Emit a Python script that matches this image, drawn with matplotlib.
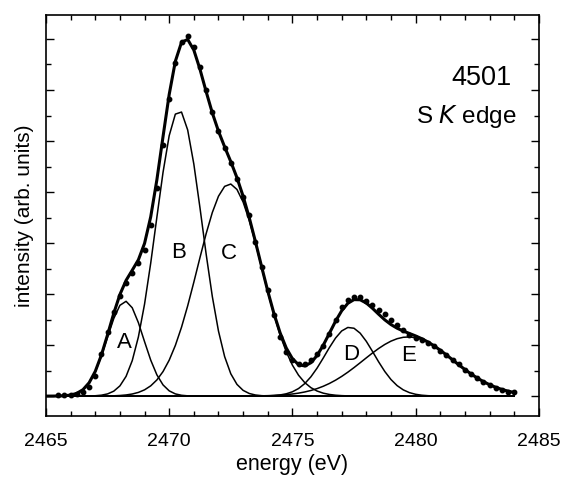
import numpy as np
import matplotlib
matplotlib.use("Agg")
import matplotlib.pyplot as plt
from matplotlib.ticker import MultipleLocator, NullFormatter

plt.rcParams['font.family'] = ['Liberation Sans', 'DejaVu Sans']

# measured spectrum (dots), energy in eV, intensity in arb. units
energy = np.arange(2465.5, 2484.01, 0.25)
intensity = [
    0.02, 0.02, 0.03, 0.04, 0.08, 0.18, 0.40, 0.82, 1.25, 1.65,
    1.97, 2.22, 2.42, 2.61, 2.86, 3.35, 4.07, 4.92, 5.82, 6.52,
    6.95, 7.05, 6.85, 6.46, 6.00, 5.57, 5.20, 4.87, 4.57, 4.25,
    3.91, 3.55, 3.03, 2.54, 2.08, 1.58, 1.16, 0.87, 0.70, 0.63,
    0.63, 0.70, 0.82, 0.99, 1.22, 1.50, 1.74, 1.88, 1.95, 1.95,
    1.87, 1.78, 1.69, 1.60, 1.50, 1.40, 1.30, 1.19, 1.14, 1.09,
    1.04, 0.98, 0.89, 0.80, 0.71, 0.62, 0.52, 0.43, 0.35, 0.28,
    0.21, 0.16, 0.12, 0.09, 0.08,
]

# fitted gaussian components
peak_labels = ['A', 'B', 'C', 'D', 'E']
peak_centers = [2468.22, 2470.4, 2472.45, 2477.33, 2479.7]
peak_heights = [1.86, 5.6, 4.16, 1.35, 1.16]
peak_sigmas = [0.74, 0.93, 1.30, 0.99, 1.82]
label_x = [2468.2, 2470.4, 2472.42, 2477.37, 2479.73]
label_y = [1.06, 2.82, 2.80, 0.82, 0.80]

fig = plt.figure(figsize=(5.63, 4.78), dpi=100)
ax = fig.add_axes([0.0817, 0.1297, 0.8753, 0.8389])

# fit curves are drawn on the same 0.25 eV grid as the data
x = np.arange(2465.0, 2484.01, 0.25)
total = np.zeros_like(x)
for c, h, s in zip(peak_centers, peak_heights, peak_sigmas):
    comp = h * np.exp(-(x - c) ** 2 / (2 * s ** 2))
    total += comp
    ax.plot(x, comp, color='black', lw=1.1)

ax.plot([2465.0, 2484.0], [0, 0], color='black', lw=1.1)
ax.plot(x, total, color='black', lw=2.2)
ax.plot(energy, intensity, 'o', color='black', ms=3.2)

for lab, lx, ly in zip(peak_labels, label_x, label_y):
    ax.text(lx, ly, lab, fontsize=16, ha='center', va='center')

ax.text(2483.9, 6.1, '4501', fontsize=19.5, ha='right', va='baseline')
ax.text(2484.1, 5.35, 'S $\\it{K}$ edge', fontsize=17.5, ha='right', va='baseline')

ax.set_xlim(2465, 2485)
ax.set_ylim(-0.39, 7.47)
ax.xaxis.set_major_locator(MultipleLocator(5))
ax.xaxis.set_minor_locator(MultipleLocator(1))
ax.yaxis.set_major_locator(MultipleLocator(1))
ax.yaxis.set_minor_locator(MultipleLocator(0.5))
ax.yaxis.set_major_formatter(NullFormatter())
ax.tick_params(which='both', direction='in', top=True, right=True, width=1.0)
ax.tick_params(which='major', length=6)
ax.tick_params(which='minor', length=3.5)
ax.tick_params(axis='x', labelsize=14, pad=12)
for sp in ax.spines.values():
    sp.set_linewidth(1.2)

ax.set_xlabel('energy (eV)', fontsize=15.5, labelpad=3)
ax.set_ylabel('intensity (arb. units)', fontsize=15, labelpad=5)

fig.savefig('out.png', dpi=100)
